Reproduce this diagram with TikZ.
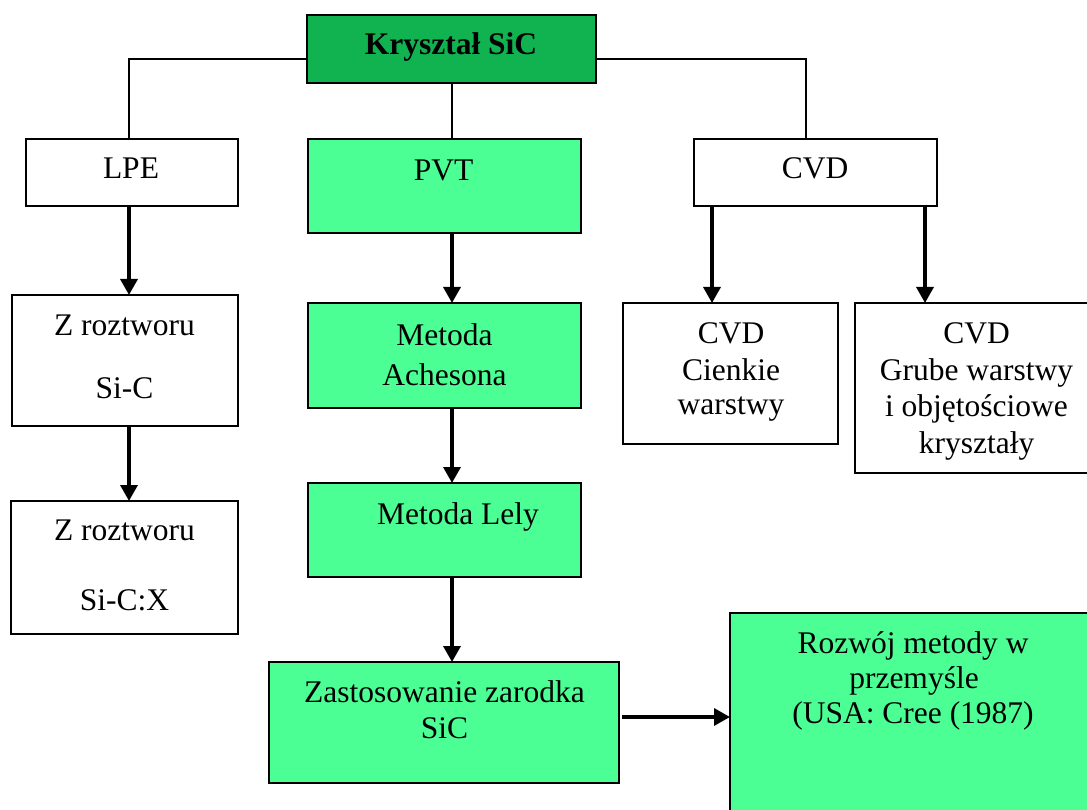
\documentclass[tikz,border=0pt]{standalone}
\usepackage{fontspec}
\setmainfont{Liberation Serif}
\usetikzlibrary{arrows.meta}
\definecolor{rootgreen}{RGB}{17,179,80}
\definecolor{stepgreen}{RGB}{75,255,148}
\begin{document}
\begin{tikzpicture}[x=1pt,y=-1pt,
  box/.style={draw=black, line width=1.8pt, outer sep=0pt, inner sep=0pt},
  wbox/.style={box, fill=white},
  gbox/.style={box, fill=stepgreen},
  lbl/.style={anchor=base, inner sep=0pt, font=\fontsize{31.5}{36.5}\selectfont},
  link/.style={line width=1.5pt},
  arr/.style={line width=3.4pt, -{Triangle[length=16pt,width=17pt]}},
]
\useasboundingbox (0,0) rectangle (1087,810);
\fill[white] (0,0) rectangle (1087,810);
\begin{scope}
\clip (0,0) rectangle (1087,810);

% boxes
\node[box, fill=rootgreen, minimum width=289pt, minimum height=68pt] (root) at (451.5,49) {};
\node[wbox, minimum width=212pt, minimum height=67pt]  (lpe)   at (132,172.5) {};
\node[gbox, minimum width=273pt, minimum height=94pt]  (pvt)   at (444.5,186) {};
\node[wbox, minimum width=243pt, minimum height=67pt]  (cvd)   at (815.5,172.5) {};
\node[wbox, minimum width=226pt, minimum height=131pt] (sol1)  at (125,360.5) {};
\node[gbox, minimum width=273pt, minimum height=105pt] (ach)   at (444.5,355.5) {};
\node[wbox, minimum width=215pt, minimum height=141pt] (thin)  at (730.5,373.5) {};
\node[wbox, minimum width=240pt, minimum height=170pt] (thick) at (975,388) {};
\node[wbox, minimum width=227pt, minimum height=133pt] (sol2)  at (124.5,567.5) {};
\node[gbox, minimum width=273pt, minimum height=94pt]  (lely)  at (444.5,530) {};
\node[gbox, minimum width=350pt, minimum height=121pt] (seed)  at (444,722.5) {};
\node[gbox, minimum width=370pt, minimum height=207pt] (ind)   at (915,716.5) {};

% labels
\node[lbl, font=\fontsize{31.5}{36.5}\selectfont\bfseries] (tRoot) at (451,55) {Kryształ SiC};
\node[lbl] (tLpe) at (131,179) {LPE};
\node[lbl] (tPvt) at (443.5,181) {PVT};
\node[lbl] (tCvd) at (815,179) {CVD};
\node[lbl] (tSolA) at (124.5,335) {Z roztworu};
\node[lbl] (tSolB) at (124.5,398) {Si-C};
\node[lbl] (tAchA) at (444.5,345) {Metoda};
\node[lbl] (tAchB) at (444.5,385) {Achesona};
\node[lbl] (tThinA) at (731,343) {CVD};
\node[lbl] (tThinB) at (731,380) {Cienkie};
\node[lbl] (tThinC) at (731,414) {warstwy};
\node[lbl] (tThickA) at (976.5,343) {CVD};
\node[lbl] (tThickB) at (976.5,380) {Grube warstwy};
\node[lbl] (tThickC) at (976.5,416.5) {i objętościowe};
\node[lbl] (tThickD) at (976.5,453) {kryształy};
\node[lbl] (tSolC) at (124.5,540) {Z roztworu};
\node[lbl] (tSolD) at (124.5,610) {Si-C:X};
\node[lbl] (tLely) at (458,524) {Metoda Lely};
\node[lbl] (tSeedA) at (444.5,702) {Zastosowanie zarodka};
\node[lbl] (tSeedB) at (444.5,738) {SiC};
\node[lbl] (tIndA) at (913,653) {Rozwój metody w};
\node[lbl] (tIndB) at (914,688) {przemyśle};
\node[lbl] (tIndC) at (913,723) {(USA: Cree (1987)};

% branches from the root
\draw[link] ([yshift=-10pt]root.west) -| ([xshift=-3pt]lpe.north);
\draw[link] ([xshift=0.5pt]root.south) -- ([xshift=0.5pt]root.south |- pvt.north);
\draw[link] ([yshift=-10pt]root.east) -| ([xshift=-9.5pt]cvd.north);

% LPE column
\draw[arr] ([xshift=-3pt]lpe.south) -- ([xshift=-3pt]lpe.south |- sol1.north);
\draw[arr] ([xshift=4pt]sol1.south) -- ([xshift=4pt]sol1.south |- sol2.north);

% PVT column
\draw[arr] ([xshift=7.5pt]pvt.south) -- ([xshift=7.5pt]pvt.south |- ach.north);
\draw[arr] ([xshift=7.5pt]ach.south) -- ([xshift=7.5pt]ach.south |- lely.north);
\draw[arr] ([xshift=7.5pt]lely.south) -- ([xshift=7.5pt]lely.south |- seed.north);

% CVD branches
\draw[arr] ([xshift=-103.5pt]cvd.south) -- ([xshift=-103.5pt]cvd.south |- thin.north);
\draw[arr] ([xshift=109.5pt]cvd.south) -- ([xshift=109.5pt]cvd.south |- thick.north);

% towards industrial growth
\draw[arr] ([xshift=3pt,yshift=5.5pt]seed.east) -- ([yshift=5.5pt]seed.east -| ind.west);
\end{scope}
\end{tikzpicture}
\end{document}
